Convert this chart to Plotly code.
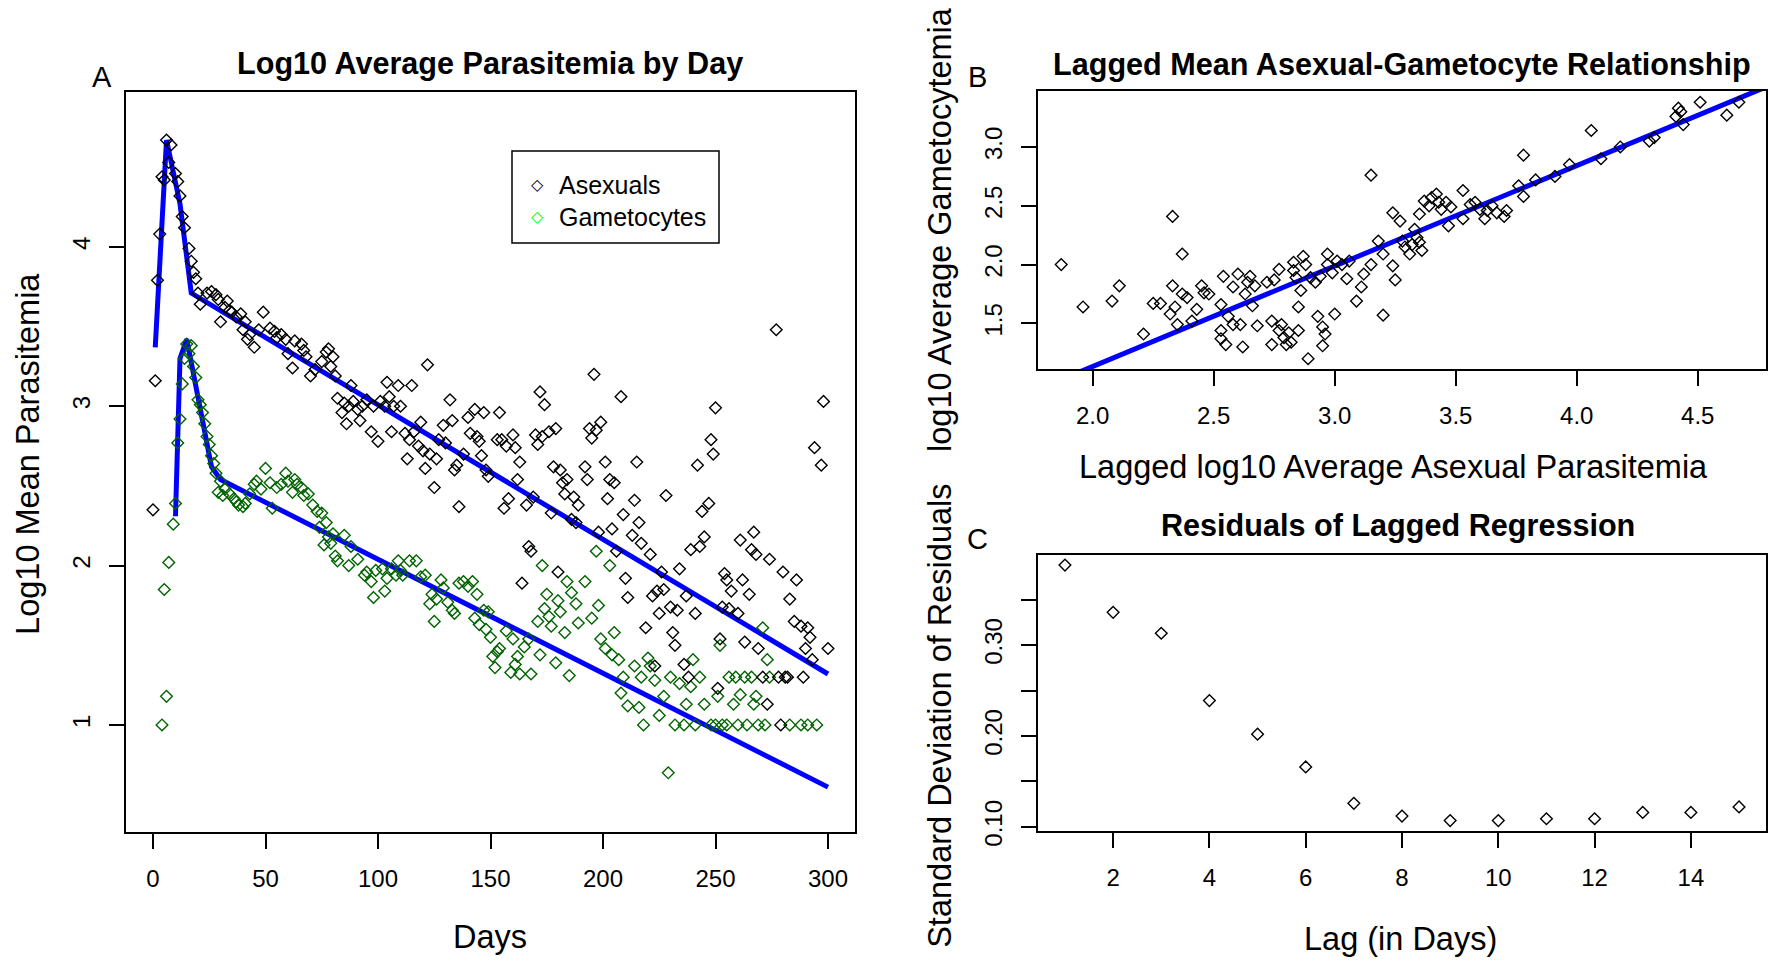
import plotly.graph_objects as go

# ---------------- Panel A data ----------------
asex_days = [0, 1, 2, 3, 4, 5, 6, 7, 8, 10,
             11, 12, 13, 14, 16, 17, 18, 19, 20, 21,
             24, 26, 28, 29, 30, 32, 33, 34, 35, 37,
             39, 40, 41, 42, 43, 45, 47, 49, 52, 54,
             55, 57, 59, 60, 62, 63, 66, 67, 68, 70,
             72, 75, 77, 78, 79, 80, 81, 82, 84, 85,
             86, 87, 88, 89, 91, 92, 93, 95, 97, 98,
             100, 101, 103, 104, 105, 106, 107, 109, 110, 112,
             113, 114, 115, 116, 118, 119, 120, 121, 122, 123,
             125, 126, 127, 129, 130, 132, 133, 134, 135, 136,
             138, 140, 141, 143, 144, 145, 146, 147, 148, 149,
             153, 154, 155, 156, 157, 158, 160, 161, 162, 163,
             164, 166, 167, 168, 169, 170, 171, 172, 173, 174,
             176, 177, 178, 179, 180, 181, 182, 183, 184, 186,
             187, 188, 189, 192, 193, 194, 195, 196, 197, 198,
             199, 201, 202, 203, 204, 205, 206, 208, 209, 210,
             211, 213, 214, 215, 216, 217, 219, 221, 222, 223,
             224, 225, 226, 227, 228, 230, 231, 232, 233, 234,
             236, 237, 238, 239, 241, 242, 243, 244, 245, 247,
             248, 249, 250, 251, 252, 253, 254, 255, 256, 257,
             260, 261, 262, 263, 265, 266, 267, 268, 269, 271,
             273, 274, 277, 278, 279, 280, 281, 282, 283, 285,
             286, 288, 289, 290, 291, 292, 293, 294, 297, 298,
             300]
asex_log10 = [2.35, 3.16, 3.79, 4.08, 4.44, 4.42, 4.67, 4.53, 4.64, 4.46,
              4.41, 4.32, 4.19, 4.12, 3.99, 3.91, 3.84, 3.80, 3.71, 3.64,
              3.71, 3.72, 3.70, 3.67, 3.53, 3.62, 3.66, 3.60, 3.59, 3.56,
              3.58, 3.48, 3.53, 3.42, 3.45, 3.37, 3.48, 3.59, 3.49, 3.47,
              3.43, 3.45, 3.42, 3.33, 3.24, 3.41, 3.39, 3.35, 3.31, 3.19,
              3.23, 3.28, 3.34, 3.36, 3.25, 3.31, 3.19, 3.05, 2.96, 3.02,
              2.89, 3.00, 3.13, 3.03, 2.98, 2.91, 3.00, 3.04, 2.84, 3.00,
              2.78, 3.03, 3.00, 3.15, 3.06, 2.84, 3.00, 3.13, 3.00, 2.83,
              2.67, 2.79, 3.13, 2.84, 2.75, 2.90, 2.72, 2.61, 3.26, 2.70,
              2.49, 2.67, 2.79, 2.88, 2.77, 3.04, 2.91, 2.60, 2.63, 2.37,
              2.70, 2.93, 2.83, 2.98, 2.81, 2.78, 2.69, 2.96, 2.60, 2.56,
              2.79, 2.96, 2.79, 2.36, 2.75, 2.42, 2.82, 2.74, 2.54, 2.65,
              1.89, 2.38, 2.12, 2.09, 2.43, 2.82, 2.76, 3.09, 2.81, 3.01,
              2.84, 2.33, 2.62, 2.86, 1.96, 2.60, 2.52, 2.45, 2.54, 2.29,
              2.43, 2.27, 2.38, 2.62, 2.54, 2.86, 2.80, 3.20, 2.85, 2.21,
              2.90, 2.65, 2.42, 2.54, 2.23, 2.52, 2.09, 3.06, 2.32, 1.92,
              1.80, 2.19, 2.41, 2.65, 2.27, 2.14, 1.61, 2.07, 1.81, 1.37,
              1.84, 1.70, 1.96, 1.85, 2.44, 1.74, 1.58, 1.50, 1.72, 1.98,
              1.38, 1.81, 1.30, 2.10, 1.70, 2.63, 2.12, 2.34, 2.18, 2.39,
              2.79, 2.70, 2.99, 1.23, 1.54, 1.74, 1.95, 1.91, 1.73, 1.84,
              1.70, 2.16, 1.91, 1.52, 1.82, 2.10, 2.21, 2.07, 1.48, 1.30,
              1.13, 2.04, 3.48, 1.30, 1.00, 1.96, 1.30, 1.30, 1.79, 1.65,
              1.91, 1.62, 1.30, 1.48, 1.61, 1.55, 1.41, 2.74, 2.63, 3.03,
              1.48]

gam_days = [4, 5, 6, 7, 9, 10, 11, 12, 13, 14,
            15, 16, 17, 18, 19, 20, 21, 22, 23, 24,
            25, 26, 27, 28, 29, 30, 31, 32, 34, 36,
            37, 38, 40, 41, 43, 45, 46, 48, 50, 52,
            53, 55, 57, 59, 60, 62, 63, 64, 66, 67,
            69, 71, 73, 74, 75, 76, 77, 78, 79, 80,
            81, 82, 85, 87, 88, 91, 94, 95, 97, 98,
            99, 102, 103, 104, 106, 108, 109, 110, 111, 114,
            117, 119, 121, 123, 124, 125, 126, 128, 129, 131,
            133, 134, 136, 138, 140, 142, 143, 144, 145, 147,
            148, 149, 150, 151, 152, 153, 154, 157, 159, 160,
            161, 162, 163, 165, 167, 168, 171, 172, 173, 174,
            175, 176, 177, 179, 180, 181, 183, 184, 185, 186,
            188, 189, 192, 195, 197, 198, 199, 201, 203, 204,
            205, 207, 208, 209, 211, 214, 216, 217, 218, 220,
            221, 223, 225, 227, 229, 230, 232, 234, 236, 237,
            239, 240, 241, 243, 245, 248, 250, 251, 252, 253,
            255, 256, 258, 259, 260, 261, 263, 264, 266, 267,
            268, 269, 271, 272, 273, 274, 283, 288, 291, 295]
gam_log10 = [1.00, 1.85, 1.18, 2.02, 2.26, 2.39, 2.77, 2.92, 3.14, 3.30,
             3.39, 3.33, 3.38, 3.25, 3.18, 3.04, 3.01, 2.96, 2.89, 2.81,
             2.76, 2.69, 2.64, 2.58, 2.46, 2.53, 2.44, 2.48, 2.45, 2.42,
             2.40, 2.38, 2.37, 2.39, 2.45, 2.51, 2.53, 2.48, 2.61, 2.52,
             2.36, 2.49, 2.51, 2.58, 2.53, 2.46, 2.54, 2.51, 2.49, 2.44,
             2.45, 2.38, 2.34, 2.24, 2.33, 2.13, 2.27, 2.18, 2.14, 2.20,
             2.06, 2.03, 2.19, 2.00, 2.12, 2.04, 1.94, 1.96, 1.90, 1.80,
             1.97, 1.98, 1.84, 1.92, 1.98, 1.94, 2.03, 1.97, 1.94, 2.03,
             2.03, 1.93, 1.94, 1.76, 1.82, 1.65, 1.79, 1.91, 1.86, 1.77,
             1.72, 1.70, 1.89, 1.90, 1.87, 1.90, 1.67, 1.82, 1.63, 1.72,
             1.60, 1.71, 1.55, 1.43, 1.36, 1.46, 1.48, 1.59, 1.33, 1.54,
             1.38, 1.43, 1.32, 1.49, 1.54, 1.32, 1.65, 1.44, 2.00, 1.73,
             1.82, 1.68, 1.62, 1.39, 1.78, 1.71, 1.58, 1.90, 1.31, 1.83,
             1.76, 1.64, 1.90, 1.67, 2.09, 1.75, 1.54, 1.48, 2.00, 1.44,
             1.58, 1.41, 1.20, 1.30, 1.12, 1.37, 1.11, 1.30, 1.00, 1.42,
             1.37, 1.28, 1.06, 1.18, 0.70, 1.30, 1.00, 1.26, 1.00, 1.13,
             1.24, 1.41, 1.00, 1.30, 1.13, 1.00, 1.00, 1.18, 1.50, 1.00,
             1.00, 1.30, 1.13, 1.30, 1.00, 1.19, 1.30, 1.00, 1.30, 1.13,
             1.18, 1.00, 1.61, 1.00, 1.41, 1.30, 1.00, 1.00, 1.00, 1.00]

# fitted (segmented) trend lines
asex_fit_days = [1, 6, 12, 17, 300]
asex_fit_log10 = [3.37, 4.67, 4.27, 3.71, 1.32]
gam_fit_days = [10, 11, 12, 15, 26, 30, 300]
gam_fit_log10 = [2.31, 2.80, 3.30, 3.42, 2.62, 2.54, 0.61]

# ---------------- Panel B data ----------------
lag_asex = [1.87, 1.96, 2.08, 2.11, 2.21, 2.25, 2.28, 2.33, 2.37, 2.33,
            2.34, 2.32, 2.35, 2.37, 2.39, 2.41, 2.43, 2.45, 2.46, 2.48,
            2.53, 2.54, 2.53, 2.53, 2.55, 2.56, 2.58, 2.58, 2.60, 2.61,
            2.62, 2.63, 2.64, 2.65, 2.66, 2.67, 2.68, 2.72, 2.74, 2.74,
            2.75, 2.77, 2.77, 2.78, 2.79, 2.80, 2.82, 2.81, 2.83, 2.83,
            2.84, 2.85, 2.85, 2.86, 2.87, 2.88, 2.89, 2.90, 2.92, 2.93,
            2.94, 2.95, 2.95, 2.96, 2.97, 2.97, 2.99, 3.00, 3.01, 3.03,
            3.05, 3.06, 3.09, 3.11, 3.12, 3.15, 3.15, 3.18, 3.20, 3.20,
            3.24, 3.24, 3.25, 3.27, 3.28, 3.29, 3.31, 3.32, 3.33, 3.34,
            3.35, 3.35, 3.36, 3.37, 3.39, 3.40, 3.42, 3.43, 3.44, 3.46,
            3.47, 3.48, 3.53, 3.53, 3.56, 3.58, 3.60, 3.62, 3.63, 3.65,
            3.67, 3.70, 3.71, 3.78, 3.78, 3.76, 3.83, 3.91, 3.97, 4.06,
            4.10, 4.18, 4.30, 4.32, 4.41, 4.42, 4.43, 4.44, 4.51, 4.62,
            4.67]
lag_gam = [2.00, 1.64, 1.69, 1.82, 1.41, 1.67, 1.67, 2.41, 2.09, 1.82,
           1.64, 1.58, 1.49, 1.75, 1.72, 1.52, 1.62, 1.82, 1.76, 1.75,
           1.66, 1.90, 1.44, 1.37, 1.32, 1.56, 1.81, 1.49, 1.92, 1.49,
           1.30, 1.75, 1.85, 1.90, 1.65, 1.82, 1.48, 1.85, 1.52, 1.32,
           1.87, 1.96, 1.44, 1.49, 1.38, 1.32, 1.34, 1.42, 1.95, 2.02,
           1.89, 1.64, 1.44, 1.78, 2.07, 2.00, 1.20, 1.89, 1.85, 1.56,
           1.90, 1.31, 1.47, 1.41, 2.09, 2.00, 1.93, 1.58, 2.03, 2.00,
           1.88, 2.03, 1.69, 1.81, 1.92, 2.00, 2.76, 2.20, 1.57, 2.09,
           2.44, 1.99, 1.87, 2.37, 2.20, 2.15, 2.09, 2.17, 2.30, 2.23,
           2.43, 2.19, 2.12, 2.54, 2.50, 2.57, 2.60, 2.53, 2.47, 2.53,
           2.33, 2.49, 2.63, 2.39, 2.51, 2.53, 2.47, 2.39, 2.46, 2.50,
           2.44, 2.41, 2.46, 2.93, 2.58, 2.67, 2.72, 2.75, 2.85, 3.14,
           2.90, 3.00, 3.05, 3.08, 3.26, 3.33, 3.30, 3.19, 3.38, 3.27,
           3.38]
reg_intercept = -0.574
reg_slope = 0.854

# ---------------- Panel C data ----------------
lags = list(range(1, 16))
resid_sd = [0.388, 0.336, 0.313, 0.239, 0.202, 0.166, 0.126, 0.112,
            0.107, 0.107, 0.109, 0.109, 0.116, 0.116, 0.122]

# ---------------- figure ----------------
W, H = 1770, 965
# the captured page comes out slightly squeezed vertically; stretch layout
Y_STRETCH = 981 / 965
FONT = "Liberation Sans, Arial, sans-serif"
BLUE = "#0000ff"
DKGREEN = "#006400"
MSIZE = 9
MLINE = 1.4


def px(x):
    return x / W


def py(y):
    return 1 - (y * Y_STRETCH) / H


xa_range = [-12, 312]
ya_range = [0.328, 4.972]
xb_range = [1.774, 4.782]
yb_range = [1.111, 3.476]
xc_range = [0.44, 15.56]
yc_range = [0.0958, 0.3992]

fig = go.Figure()

# panel A
fig.add_trace(go.Scatter(x=asex_fit_days, y=asex_fit_log10, mode="lines",
                         line=dict(color=BLUE, width=5), xaxis="x", yaxis="y"))
fig.add_trace(go.Scatter(x=gam_fit_days, y=gam_fit_log10, mode="lines",
                         line=dict(color=BLUE, width=5), xaxis="x", yaxis="y"))
fig.add_trace(go.Scatter(x=gam_days, y=gam_log10, mode="markers",
                         marker=dict(symbol="diamond-open", size=MSIZE, color=DKGREEN,
                                     line=dict(width=MLINE, color=DKGREEN)),
                         xaxis="x", yaxis="y"))
fig.add_trace(go.Scatter(x=asex_days, y=asex_log10, mode="markers",
                         marker=dict(symbol="diamond-open", size=MSIZE, color="black",
                                     line=dict(width=MLINE, color="black")),
                         xaxis="x", yaxis="y"))

# panel B
reg_x = list(xb_range)
reg_y = [reg_intercept + reg_slope * v for v in reg_x]
fig.add_trace(go.Scatter(x=reg_x, y=reg_y, mode="lines",
                         line=dict(color=BLUE, width=5), xaxis="x2", yaxis="y2"))
fig.add_trace(go.Scatter(x=lag_asex, y=lag_gam, mode="markers",
                         marker=dict(symbol="diamond-open", size=MSIZE, color="black",
                                     line=dict(width=MLINE, color="black")),
                         xaxis="x2", yaxis="y2"))

# panel C
fig.add_trace(go.Scatter(x=lags, y=resid_sd, mode="markers",
                         marker=dict(symbol="diamond-open", size=MSIZE, color="black",
                                     line=dict(width=MLINE, color="black")),
                         xaxis="x3", yaxis="y3"))

common = dict(showline=True, mirror=True, linecolor="black", linewidth=2,
              ticks="outside", ticklen=15, tickwidth=2, tickcolor="black",
              showgrid=False, zeroline=False,
              tickfont=dict(family=FONT, size=24, color="black"))
XSTAND = 9
YSTAND = 9

fig.update_layout(
    width=W, height=H,
    margin=dict(l=0, r=0, t=0, b=0),
    paper_bgcolor="white", plot_bgcolor="white",
    showlegend=False,
    xaxis=dict(common, domain=[px(126), px(855)], range=xa_range, anchor="y",
               tickmode="array", tickvals=[0, 50, 100, 150, 200, 250, 300],
               ticklabelstandoff=XSTAND),
    yaxis=dict(common, domain=[py(832.3), py(92)], range=ya_range, anchor="x",
               tickmode="array", tickvals=[1, 2, 3, 4], tickangle=-90,
               ticklabelstandoff=YSTAND),
    xaxis2=dict(common, domain=[px(1038), px(1766)], range=xb_range, anchor="y2",
                tickmode="array", tickvals=[2.0, 2.5, 3.0, 3.5, 4.0, 4.5],
                ticktext=["2.0", "2.5", "3.0", "3.5", "4.0", "4.5"],
                ticklabelstandoff=XSTAND),
    yaxis2=dict(common, domain=[py(369.3), py(91)], range=yb_range, anchor="x2",
                tickmode="array", tickvals=[1.5, 2.0, 2.5, 3.0],
                ticktext=["1.5", "2.0", "2.5", "3.0"], tickangle=-90,
                ticklabelstandoff=YSTAND),
    xaxis3=dict(common, domain=[px(1038), px(1766)], range=xc_range, anchor="y3",
                tickmode="array", tickvals=[2, 4, 6, 8, 10, 12, 14],
                ticklabelstandoff=XSTAND),
    yaxis3=dict(common, domain=[py(831), py(555)], range=yc_range, anchor="x3",
                tickmode="array", tickvals=[0.10, 0.15, 0.20, 0.25, 0.30, 0.35],
                ticktext=["0.10", "", "0.20", "", "0.30", ""], tickangle=-90,
                ticklabelstandoff=YSTAND),
)


def ann(text, x, y, size, angle=0, bold=False, xanchor="center", color="black", family=FONT):
    return dict(text=("<b>%s</b>" % text) if bold else text,
                x=px(x), y=py(y), xref="paper", yref="paper",
                xanchor=xanchor, yanchor="middle", showarrow=False,
                textangle=angle, font=dict(family=family, size=size, color=color))


annotations = [
    ann("Log10 Average Parasitemia by Day", 490, 64, 30.6, bold=True),
    ann("Lagged Mean Asexual-Gametocyte Relationship", 1402, 65, 30.6, bold=True),
    ann("Residuals of Lagged Regression", 1398, 526, 30.6, bold=True),
    ann("A", 102, 77, 29),
    ann("B", 978, 77, 29),
    ann("C", 978, 539, 29),
    ann("Days", 490, 937, 32.5),
    ann("Log10 Mean Parasitemia", 28, 454, 32.5, angle=-90),
    ann("Lagged log10 Average Asexual Parasitemia", 1393, 467, 32.5),
    ann("log10 Average Gametocytemia", 940, 230, 32.5, angle=-90),
    ann("Lag (in Days)", 1400, 939, 32.5),
    ann("Standard Deviation of Residuals", 940, 716, 32.5, angle=-90),
    # legend
    ann("\u25c7", 537, 185, 16, color="black", family="DejaVu Sans"),
    ann("\u25c7", 537, 217, 16, color="#00ff00", family="DejaVu Sans"),
    ann("Asexuals", 557, 185, 25, xanchor="left"),
    ann("Gametocytes", 557, 217, 25, xanchor="left"),
]
fig.update_layout(annotations=annotations)
fig.add_shape(type="rect", xref="paper", yref="paper",
              x0=px(512), x1=px(719), y0=py(243), y1=py(151),
              line=dict(color="black", width=1.5), fillcolor="rgba(0,0,0,0)")

fig.write_html("out.html", config={"displayModeBar": False},
               post_script="document.body.style.margin='0px';"
                           "document.body.style.overflow='hidden';")
